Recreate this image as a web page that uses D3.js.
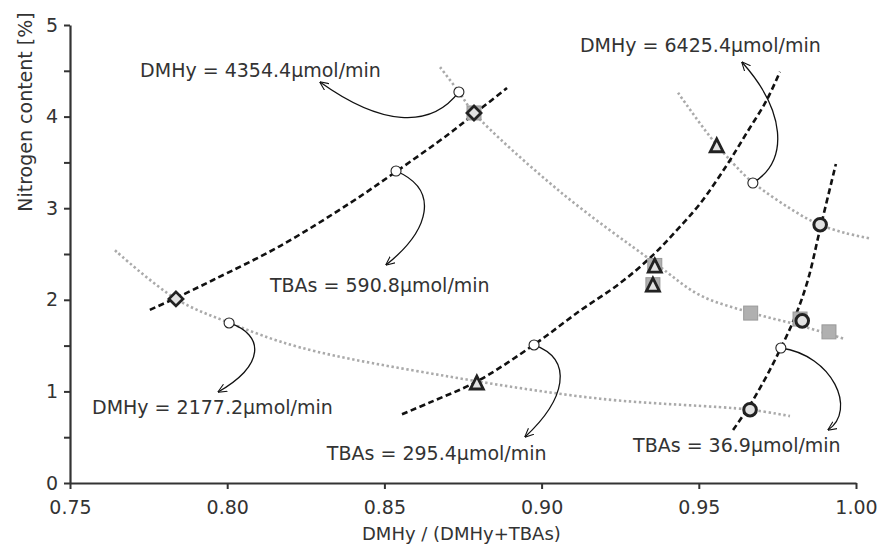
<!DOCTYPE html>
<html lang="en">
<meta charset="utf-8">
<head>
  <script src="https://d3js.org/d3.v7.min.js"></script>
  <style>
    body { margin: 0; background: #fff; }
  </style>
</head>
<body>
  <div id="my_dataviz"></div>
  <script>
    // ---- data ----
    var xTicks = [0.75, 0.80, 0.85, 0.90, 0.95, 1.00];
    var yTicks = [0, 0.5, 1, 1.5, 2, 2.5, 3, 3.5, 4, 4.5, 5];

    // constant-DMHy curves (grey dotted)
    var dmhy2177 = [[0.7643, 2.54], [0.7837, 2.01], [0.8006, 1.75], [0.8232, 1.48], [0.8709, 1.16], [0.9186, 0.92], [0.9663, 0.80], [0.9790, 0.73]];
    var dmhy4354 = [[0.8677, 4.54], [0.8737, 4.27], [0.8785, 4.04], [0.9059, 3.18], [0.9361, 2.40], [0.9504, 2.05], [0.9665, 1.86], [0.9822, 1.72], [0.9965, 1.57]];
    var dmhy6425 = [[0.9434, 4.26], [0.9536, 3.78], [0.9609, 3.49], [0.9672, 3.28], [0.9822, 2.93], [0.9885, 2.82], [0.9965, 2.73], [1.0045, 2.67]];

    // constant-TBAs curves (black dashed)
    var tbas590 = [[0.7754, 1.89], [0.7837, 2.02], [0.7955, 2.216], [0.8168, 2.587], [0.8391, 3.057], [0.8540, 3.406], [0.8709, 3.821], [0.8785, 4.028], [0.8890, 4.312]];
    var tbas295 = [[0.8556, 0.75], [0.8645, 0.88], [0.8795, 1.11], [0.8976, 1.51], [0.9122, 1.88], [0.9249, 2.18], [0.9355, 2.49], [0.9430, 2.76], [0.9504, 3.05], [0.9589, 3.47], [0.9652, 3.82], [0.9716, 4.18], [0.9758, 4.49]];
    var tbas37 = [[0.9609, 0.579], [0.9663, 0.852], [0.9714, 1.157], [0.9761, 1.474], [0.9806, 1.812], [0.9847, 2.216], [0.9885, 2.762], [0.9936, 3.483]];

    // measured points
    var squares = [[0.8785, 4.04], [0.9360, 2.375], [0.9354, 2.165], [0.9665, 1.855], [0.9822, 1.79], [0.9914, 1.65]];
    var diamonds = [[0.7837, 2.01], [0.8785, 4.04]];
    var triangles = [[0.8794, 1.097], [0.9360, 2.374], [0.9354, 2.165], [0.9557, 3.687]];
    var circles = [[0.9663, 0.80], [0.9829, 1.77], [0.9886, 2.82]];

    // annotations: small open circle, bezier control points, arrow tip, label
    var labels = ["DMHy = 4354.4\u03bcmol/min", "TBAs = 590.8\u03bcmol/min", "DMHy = 2177.2\u03bcmol/min",
                  "TBAs = 295.4\u03bcmol/min", "DMHy = 6425.4\u03bcmol/min", "TBAs = 36.9\u03bcmol/min"];
    var labelPos = [[0.7723, 4.43], [0.8136, 2.085], [0.7570, 0.753], [0.8317, 0.251], [0.9122, 4.705], [0.9291, 0.338]];
    var arrows = [
      [[0.8737, 4.269], [0.8645, 3.854], [0.8486, 3.908], [0.8295, 4.378]],
      [[0.8537, 3.406], [0.8677, 3.199], [0.8645, 2.762], [0.8505, 2.380]],
      [[0.8006, 1.747], [0.8120, 1.616], [0.8120, 1.288], [0.7971, 0.993]],
      [[0.8976, 1.507], [0.9106, 1.343], [0.9074, 0.906], [0.8947, 0.502]],
      [[0.9672, 3.275], [0.9790, 3.526], [0.9774, 4.072], [0.9637, 4.596]],
      [[0.9761, 1.474], [0.9925, 1.397], [1.0005, 0.797], [0.9911, 0.579]]
    ];

    // ---- layout ----
    var W = 882, H = 553;
    var font = "DejaVu Sans";
    var ink = "#333";

    var x = d3.scaleLinear().domain([0.75, 1.0]).range([70, 856]);
    var y = d3.scaleLinear().domain([0, 5]).range([483, 25]);

    var svg = d3.select("#my_dataviz")
      .append("svg")
      .attr("width", W)
      .attr("height", H)
      .style("display", "block")
      .style("background", "#fff");

    svg.append("defs").append("marker")
      .attr("id", "arrow")
      .attr("viewBox", "0 -5 10 10")
      .attr("refX", 9.5)
      .attr("refY", 0)
      .attr("markerUnits", "userSpaceOnUse")
      .attr("markerWidth", 9)
      .attr("markerHeight", 9)
      .attr("orient", "auto")
      .append("path")
      .attr("d", "M0,-4.5L10,0L0,4.5")
      .attr("fill", "none")
      .attr("stroke", "#111")
      .attr("stroke-width", 1.2);

    // axes
    var xAxis = svg.append("g")
      .attr("transform", "translate(0," + y(0) + ")")
      .call(d3.axisBottom(x).tickValues(xTicks).tickFormat(d3.format(".2f"))
        .tickSize(6).tickSizeOuter(0).tickPadding(12));

    var yAxis = svg.append("g")
      .attr("transform", "translate(" + x(0.75) + ",0)")
      .call(d3.axisLeft(y).tickValues(yTicks)
        .tickFormat(function (d) { return d % 1 === 0 ? d : ""; })
        .tickSize(6).tickSizeOuter(0).tickPadding(6));

    [xAxis, yAxis].forEach(function (a) {
      a.select(".domain").attr("stroke", ink).attr("stroke-width", 2.2);
      a.selectAll(".tick line").attr("stroke", ink).attr("stroke-width", 2);
      a.selectAll("text").attr("fill", ink).style("font-family", font).style("font-size", "19px");
    });

    svg.append("text")
      .attr("x", x(0.8745))
      .attr("y", 540)
      .attr("text-anchor", "middle")
      .attr("fill", ink)
      .style("font-family", font)
      .style("font-size", "18px")
      .text("DMHy / (DMHy+TBAs)");

    svg.append("text")
      .attr("transform", "translate(32,112)rotate(-90)")
      .attr("text-anchor", "middle")
      .attr("fill", ink)
      .style("font-family", font)
      .style("font-size", "19px")
      .text("Nitrogen content [%]");

    // curves
    var line = d3.line()
      .x(function (d) { return x(d[0]); })
      .y(function (d) { return y(d[1]); })
      .curve(d3.curveCatmullRom);

    [dmhy2177, dmhy4354, dmhy6425].forEach(function (c) {
      svg.append("path").attr("d", line(c))
        .attr("fill", "none").attr("stroke", "#aaa")
        .attr("stroke-width", 2.6).attr("stroke-dasharray", "2.4 2.6");
    });

    [tbas590, tbas295, tbas37].forEach(function (c) {
      svg.append("path").attr("d", line(c))
        .attr("fill", "none").attr("stroke", "#111")
        .attr("stroke-width", 2.6).attr("stroke-dasharray", "6 3.5");
    });

    // annotation arrows
    svg.selectAll(".arrow").data(arrows).enter().append("path")
      .attr("class", "arrow")
      .attr("d", function (a) {
        var p = d3.path();
        p.moveTo(x(a[0][0]), y(a[0][1]));
        p.bezierCurveTo(x(a[1][0]), y(a[1][1]), x(a[2][0]), y(a[2][1]), x(a[3][0]), y(a[3][1]));
        return p.toString();
      })
      .attr("fill", "none")
      .attr("stroke", "#111")
      .attr("stroke-width", 1.3)
      .attr("marker-end", "url(#arrow)");

    // points
    svg.selectAll(".sq").data(squares).enter().append("rect")
      .attr("x", function (d) { return x(d[0]) - 7; })
      .attr("y", function (d) { return y(d[1]) - 7; })
      .attr("width", 14).attr("height", 14)
      .attr("fill", "#b0b0b0").attr("stroke", "#999").attr("stroke-width", 1);

    svg.selectAll(".dia").data(diamonds).enter().append("path")
      .attr("transform", function (d) { return "translate(" + x(d[0]) + "," + y(d[1]) + ")"; })
      .attr("d", "M0,-7L7,0L0,7L-7,0Z")
      .attr("fill", "#e2e2e2").attr("stroke", "#222").attr("stroke-width", 2.8);

    svg.selectAll(".tri").data(triangles).enter().append("path")
      .attr("transform", function (d) { return "translate(" + x(d[0]) + "," + y(d[1]) + ")"; })
      .attr("d", "M0,-6.5L6.5,6.5L-6.5,6.5Z")
      .attr("fill", "#e2e2e2").attr("stroke", "#222").attr("stroke-width", 2.8)
      .attr("stroke-linejoin", "miter");

    svg.selectAll(".circ").data(circles).enter().append("circle")
      .attr("cx", function (d) { return x(d[0]); })
      .attr("cy", function (d) { return y(d[1]); })
      .attr("r", 6.3)
      .attr("fill", "#e2e2e2").attr("stroke", "#222").attr("stroke-width", 3);

    svg.selectAll(".anchor").data(arrows).enter().append("circle")
      .attr("cx", function (a) { return x(a[0][0]); })
      .attr("cy", function (a) { return y(a[0][1]); })
      .attr("r", 5)
      .attr("fill", "#fff").attr("stroke", "#222").attr("stroke-width", 1.1);

    svg.selectAll(".lab").data(labels).enter().append("text")
      .attr("x", function (d, i) { return x(labelPos[i][0]); })
      .attr("y", function (d, i) { return y(labelPos[i][1]); })
      .attr("fill", ink)
      .style("font-family", font)
      .style("font-size", "19px")
      .text(function (d) { return d; });
  </script>
</body>
</html>
